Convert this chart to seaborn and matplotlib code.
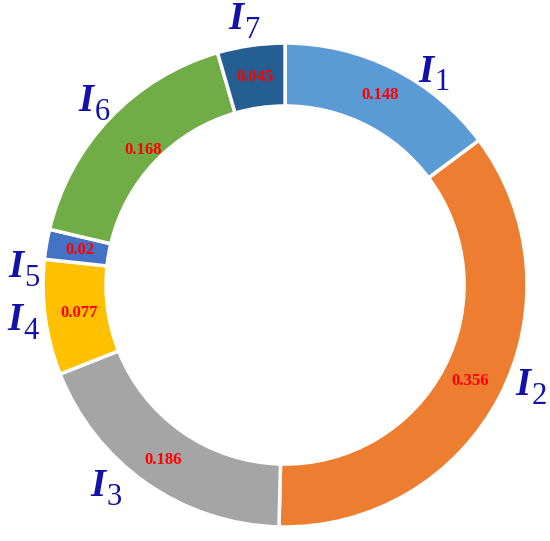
import numpy as np
import seaborn as sns
import matplotlib
matplotlib.use("Agg")
import matplotlib.pyplot as plt

# indicator weights, clockwise from 12 o'clock
indicators = ["1", "2", "3", "4", "5", "6", "7"]
weights = [0.148, 0.356, 0.186, 0.077, 0.02, 0.168, 0.045]
value_text = ["0.148", "0.356", "0.186", "0.077", "0.02", "0.168", "0.045"]
colors = ["#5B9BD5", "#ED7D31", "#A5A5A5", "#FFC000", "#4472C4", "#70AD47", "#255E91"]

sns.set_theme(style="white")
plt.rcParams["font.family"] = ["Liberation Serif", "DejaVu Serif"]

fig = plt.figure(figsize=(5.5, 5.41), dpi=100)
ax = fig.add_axes([0, 0, 1, 1])

wedges, _ = ax.pie(
    weights,
    colors=colors,
    startangle=90,
    counterclock=False,
    radius=1.0,
    wedgeprops=dict(width=0.26, edgecolor="white", linewidth=2.5),
)

# small angular nudges for the outer labels (degrees)
nudge = [-8, 5, -7, 0, 6, 0, 1]
label_r = [1.07, 1.09, 1.12, 1.10, 1.09, 1.10, 1.11]
value_r = [0.88, 0.86, 0.88, 0.86, 0.86, 0.81, 0.87]
lab_color = "#1212AA"

for i, w in enumerate(wedges):
    mid = np.deg2rad((w.theta1 + w.theta2) / 2)
    ax.text(value_r[i] * np.cos(mid), value_r[i] * np.sin(mid), value_text[i],
            color="#FF0000", fontsize=12, fontweight="bold",
            ha="center", va="center")
    a = mid + np.deg2rad(nudge[i])
    x, y = label_r[i] * np.cos(a), label_r[i] * np.sin(a)
    ax.text(x + 0.005, y, "I", color=lab_color, fontsize=28, fontweight="bold",
            fontstyle="italic", ha="right", va="center")
    ax.text(x + 0.01, y - 0.045, indicators[i], color=lab_color, fontsize=22,
            ha="left", va="center")

ax.set_xlim(-1.178, 1.095)
ax.set_ylim(-1.058, 1.178)
ax.set_aspect("auto")
ax.axis("off")

fig.savefig("out.png", dpi=100)
